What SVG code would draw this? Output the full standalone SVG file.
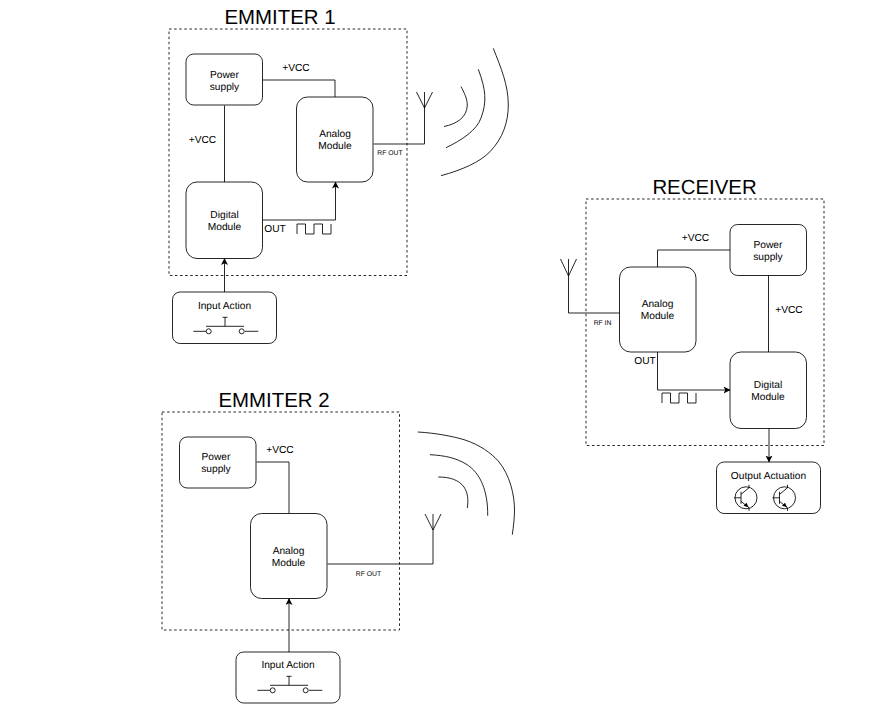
<svg xmlns="http://www.w3.org/2000/svg" width="894" height="712" viewBox="0 0 894 712">
<style>
text{font-family:"Liberation Sans",Arial,sans-serif;fill:#000;text-anchor:middle;text-rendering:geometricPrecision}
.t{font-size:10.2px}.v{font-size:10.2px}.s{font-size:6.8px}.h{font-size:20.4px}
.b{fill:#fff;stroke:#000;stroke-width:.85}
.d{fill:none;stroke:#000;stroke-width:.85;stroke-dasharray:2.55 2.55}
.l{fill:none;stroke:#000;stroke-width:.85}
</style>
<defs>
<marker id="a" markerWidth="8" markerHeight="8" refX="6.500" refY="3.500" orient="auto" markerUnits="userSpaceOnUse"><path d="M0 0L7 3.500L0 7L1.700 3.500Z" fill="#000"/></marker>
<g id="wave"><path class="l" d="M0 0V-10H8.500V0H17V-10H25.500V0H34V-10"/></g>
<g id="sw"><path class="l" d="M-31.700 13.300H-19M20 13.300H33.300M-19 8.300H19M0 8.300V-.7M-2.500 -.7H2.500"/><circle class="l" cx="-16.300" cy="13.300" r="2.500"/><circle class="l" cx="16.700" cy="13.300" r="2.500"/></g>
<g id="q"><circle class="l" cx="0" cy="0" r="11"/><path class="l" d="M-12 0H-5M-5 -6V6M-5 -3.500L3 -10V-13M-5 3.500L3 10V13"/><path d="M2.500 9.500L-2.500 8L.5 5Z" fill="#000"/></g>
</defs>
<g id="frames">
<rect class="d" x="169" y="29" width="238" height="246.500"/>
<rect class="d" x="162" y="412" width="237.500" height="218"/>
<rect class="d" x="586" y="199" width="238" height="246.500"/>
</g>
<g id="connectors">
<path class="l" d="M263 80H335V97"/>
<path class="l" d="M224.500 105.500V182"/>
<path class="l" d="M263 220H335.500V182" marker-end="url(#a)"/>
<path class="l" d="M224.500 292V258.500" marker-end="url(#a)"/>
<path class="l" d="M373.500 144H424.500V108"/>
<path class="l" d="M256.500 462H289V513.500"/>
<path class="l" d="M289 652V598.500" marker-end="url(#a)"/>
<path class="l" d="M327.500 564H433V530"/>
<path class="l" d="M730 250H657.500V267"/>
<path class="l" d="M768.500 275.500V352"/>
<path class="l" d="M657.500 352V390H730" marker-end="url(#a)"/>
<path class="l" d="M769 428.500V462" marker-end="url(#a)"/>
<path class="l" d="M619.500 313H568.500V276"/>
<use href="#wave" x="297" y="234"/>
<use href="#wave" x="662" y="403"/>
<path class="l" d="M416.500 92L424.500 108L432.500 92M424.500 108V92"/>
<path class="l" d="M425 514L433 530L441 514M433 530V514"/>
<path class="l" d="M560.500 259L568.500 276L576.500 259M568.500 276V259"/>
<path class="l" d="M444 126.500C456 124 467 118 467.300 105C467.300 99 464 92 461 86.700"/>
<path class="l" d="M446 147.700C462 140 477 130 481 118C487 102 486 90 478.300 69.300"/>
<path class="l" d="M441 175.700C462 170 480 162 490 151.700C503 138 508.300 122 508.300 105C508.300 85 501 68 493.300 48.300"/>
<path class="l" d="M438.300 477C450 477 459 480 464 487C468 493 468.500 500 467.300 508"/>
<path class="l" d="M430 454.700C445 455.500 456 458 466 464C481 473 488 492 487.700 515.700"/>
<path class="l" d="M417.700 432C435 433 452 436 465 440C480 445 491 453 498.300 461C510 475 514.500 495 514.500 510C514.500 518 513.500 526 512.300 534.700"/>
</g>
<g id="power1"><rect class="b" x="186" y="54" width="76.500" height="51" rx="7.650"/><text class="t" x="224.500" y="78">Power</text><text class="t" x="224.500" y="90">supply</text></g>
<g id="analog1"><rect class="b" x="296.500" y="97" width="76.500" height="85" rx="11"/><text class="t" x="335" y="137">Analog</text><text class="t" x="335" y="149">Module</text></g>
<g id="digital1"><rect class="b" x="186" y="182" width="76.500" height="76.500" rx="11"/><text class="t" x="224.500" y="218">Digital</text><text class="t" x="224.500" y="230">Module</text></g>
<g id="input1"><rect class="b" x="172.500" y="292" width="104" height="51.500" rx="7.650"/><text class="t" x="224.500" y="309">Input Action</text><use href="#sw" x="225" y="318"/></g>
<g id="power2"><rect class="b" x="179.500" y="437" width="76.500" height="51" rx="7.650"/><text class="t" x="216" y="460">Power</text><text class="t" x="216" y="472">supply</text></g>
<g id="analog2"><rect class="b" x="250.500" y="513.500" width="76.500" height="85" rx="11"/><text class="t" x="288.500" y="554">Analog</text><text class="t" x="288.500" y="566">Module</text></g>
<g id="input2"><rect class="b" x="236" y="652" width="104" height="51" rx="7.650"/><text class="t" x="288" y="668">Input Action</text><use href="#sw" x="289" y="677"/></g>
<g id="power3"><rect class="b" x="730" y="224.500" width="76.500" height="51" rx="7.650"/><text class="t" x="768" y="248">Power</text><text class="t" x="768" y="260">supply</text></g>
<g id="analog3"><rect class="b" x="619.500" y="267" width="76.500" height="85" rx="11"/><text class="t" x="657.500" y="307">Analog</text><text class="t" x="657.500" y="319">Module</text></g>
<g id="digital3"><rect class="b" x="730" y="352" width="76.500" height="76.500" rx="11"/><text class="t" x="768" y="388">Digital</text><text class="t" x="768" y="400">Module</text></g>
<g id="output"><rect class="b" x="716.500" y="462" width="104" height="51.500" rx="7.650"/><text class="t" x="768.500" y="479">Output Actuation</text><use href="#q" x="746" y="497.800"/><use href="#q" x="784.500" y="497.800"/></g>
<g id="labels">
<text class="h" x="280" y="24">EMMITER 1</text>
<text class="h" x="274" y="407">EMMITER 2</text>
<text class="h" x="704.500" y="194">RECEIVER</text>
<text class="v" x="296" y="71">+VCC</text>
<text class="v" x="202.500" y="143">+VCC</text>
<text class="v" x="275" y="232">OUT</text>
<text class="s" x="390" y="155">RF OUT</text>
<text class="v" x="280" y="453">+VCC</text>
<text class="s" x="368.500" y="576">RF OUT</text>
<text class="v" x="695.500" y="241">+VCC</text>
<text class="v" x="789" y="313">+VCC</text>
<text class="v" x="645" y="364">OUT</text>
<text class="s" x="602.500" y="325">RF IN</text>
</g>
</svg>
